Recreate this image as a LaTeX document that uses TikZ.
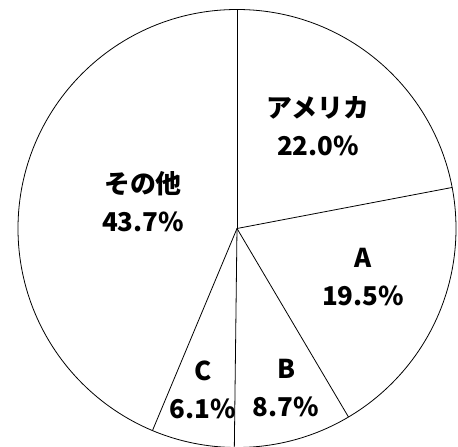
\documentclass[tikz,border=0pt]{standalone}
\usepackage{fontspec}
\setmainfont{Noto Sans CJK JP}
\tikzset{share/.style={align=center, font=\bfseries\fontsize{26}{38}\selectfont}}

\begin{document}
\begin{tikzpicture}[x=1bp, y=1bp, line width=0.8pt]
			\useasboundingbox (-237,-218.5) rectangle (221,228.5);
			% circle
			\coordinate (O) at (0,0);
			\draw (O) circle (219);
			
			% slice borders
			\coordinate (P1) at (90:219);
			\coordinate (P2) at (10.8:219);
			\coordinate (P3) at (-59.4:219);
			\coordinate (P4) at (-90.7:219);
			\coordinate (P5) at (-112.7:219);
			\draw (O) -- (P1);
			\draw (O) -- (P2);
			\draw (O) -- (P3);
			\draw (O) -- (P4);
			\draw (O) -- (P5);
			
			% labels
			\node [share] (US) at (81, 102.5) {アメリカ\\22.0\%};
			\node [share] (A) at (126, -48.5) {A\\19.5\%};
			\node [share] (B) at (49, -159.5) {B\\8.7\%};
			\node [share] (C) at (-34, -161.5) {C\\6.1\%};
			\node [share] (other) at (-94, 26.5) {その他\\43.7\%};
		\end{tikzpicture}
\end{document}
